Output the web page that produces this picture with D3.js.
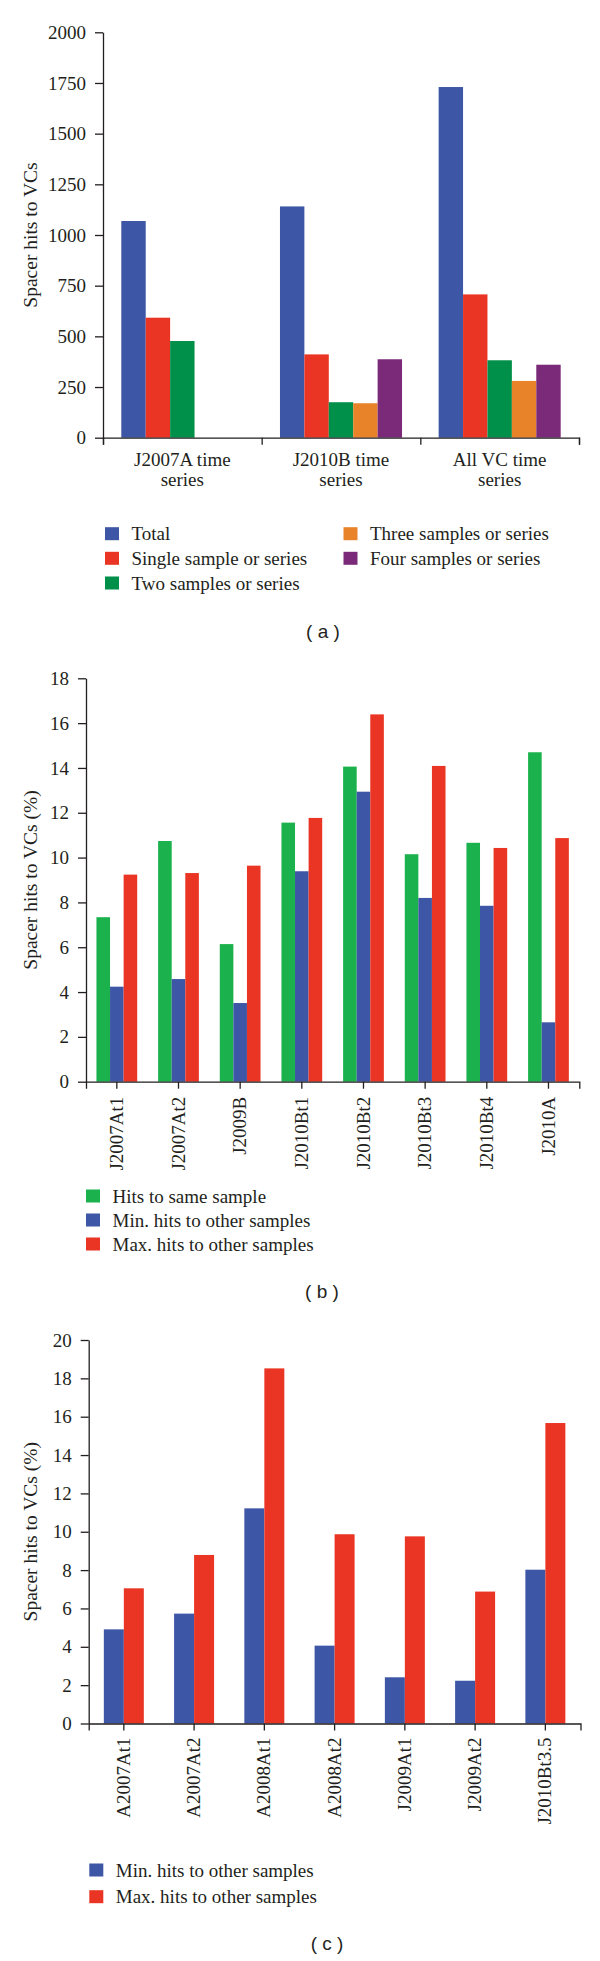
<!DOCTYPE html>
<html>
<head>
<meta charset="utf-8">
<script src="https://cdn.jsdelivr.net/npm/d3@7"></script>
<style>
  body { margin: 0; background: #fff; }
  svg text { font-family: "Liberation Serif", "Times New Roman", serif; fill: #231f20; }
  .domain, .tick line { stroke: #231f20; stroke-width: 1.3; }
</style>
</head>
<body>
<svg id="svg-1"></svg>
<script>
// Panel (a)
var catsA = ["J2007A time series", "J2010B time series", "All VC time series"];
var seriesA = ["Total", "Single sample or series", "Two samples or series", "Three samples or series", "Four samples or series"];
var totalA = [1069, 1141, 1730];
var singleA = [592, 411, 707];
var twoA = [477, 175, 382];
var threeA = [null, 170, 280];
var fourA = [null, 387, 360];
var ticksA = [0, 250, 500, 750, 1000, 1250, 1500, 1750, 2000];

// Panel (b)
var catsB = ["J2007At1", "J2007At2", "J2009B", "J2010Bt1", "J2010Bt2", "J2010Bt3", "J2010Bt4", "J2010A"];
var seriesB = ["Hits to same sample", "Min. hits to other samples", "Max. hits to other samples"];
var sameB = [7.34, 10.74, 6.14, 11.56, 14.06, 10.15, 10.66, 14.70];
var minB = [4.24, 4.58, 3.51, 9.39, 12.94, 8.20, 7.85, 2.65];
var maxB = [9.24, 9.31, 9.64, 11.77, 16.39, 14.09, 10.43, 10.87];
var ticksB = [0, 2, 4, 6, 8, 10, 12, 14, 16, 18];

// Panel (c)
var catsC = ["A2007At1", "A2007At2", "A2008At1", "A2008At2", "J2009At1", "J2009At2", "J2010Bt3.5"];
var seriesC = ["Min. hits to other samples", "Max. hits to other samples"];
var minC = [4.91, 5.73, 11.22, 4.06, 2.41, 2.23, 8.02];
var maxC = [7.05, 8.79, 18.52, 9.87, 9.76, 6.88, 15.67];
var ticksC = [0, 2, 4, 6, 8, 10, 12, 14, 16, 18, 20];

var blue = "#3d56a5", red = "#ea3524", darkGreen = "#00904a",
    green = "#1bb14c", orange = "#e8832a", purple = "#7b2a7a";

var width = 600;
var height = 1961;
var fontSize = 19;

var svg = d3.select("#svg-1")
    .attr("width", width)
    .attr("height", height)
    .attr("viewBox", [0, 0, width, height]);

function drawPanel(p) {
  var g = svg.append("g");

  var xScale = d3.scaleBand()
      .domain(p.cats)
      .range([p.left, p.right]);

  var x1 = d3.scaleBand()
      .domain(p.series)
      .range([0, xScale.bandwidth()])
      .paddingOuter(p.groupPad);

  var yScale = d3.scaleLinear()
      .domain([0, p.ticks[p.ticks.length - 1]])
      .range([p.bottom, p.top]);

  // bars
  p.series.forEach(function(s, i) {
    g.append("g")
      .selectAll("rect")
      .data(p.values[i].map(function(v, j) { return { cat: p.cats[j], v: v }; })
        .filter(function(d) { return d.v != null; }))
      .join("rect")
        .attr("x", d => xScale(d.cat) + x1(s))
        .attr("y", d => yScale(d.v))
        .attr("width", x1.bandwidth())
        .attr("height", d => yScale(0) - yScale(d.v))
        .attr("fill", p.colors[i]);
  });

  // y axis
  g.append("g")
      .attr("transform", "translate(" + p.left + ",0)")
      .call(d3.axisLeft(yScale).tickValues(p.ticks).tickFormat(d3.format("d"))
        .tickSize(8).tickSizeOuter(0).tickPadding(9))
      .call(a => a.selectAll("text").style("font-size", fontSize + "px").attr("font-family", null));

  // x axis
  if (p.boundaryTicks) {
    var xEdge = d3.scaleLinear().domain([0, p.cats.length]).range([p.left, p.right]);
    g.append("g")
        .attr("transform", "translate(0," + p.bottom + ")")
        .call(d3.axisBottom(xEdge).tickValues(d3.range(p.cats.length + 1)).tickFormat("").tickSize(7).tickSizeOuter(7));
    p.cats.forEach(function(c) {
      var k = c.lastIndexOf(" ");
      var t = g.append("text")
          .attr("x", xScale(c) + xScale.bandwidth() / 2)
          .attr("y", p.bottom + 28.5)
          .attr("text-anchor", "middle")
          .style("font-size", fontSize + "px");
      t.append("tspan").text(c.slice(0, k));
      t.append("tspan")
          .attr("x", xScale(c) + xScale.bandwidth() / 2)
          .attr("dy", 19.5)
          .text(c.slice(k + 1));
    });
  } else {
    g.append("g")
        .attr("transform", "translate(0," + p.bottom + ")")
        .call(d3.axisBottom(xScale).tickSize(7).tickSizeOuter(7).tickPadding(p.labelGap))
        .call(a => a.selectAll(".tick text")
          .attr("transform", "rotate(-90)")
          .attr("text-anchor", "end")
          .attr("x", -p.labelGap)
          .attr("y", 0)
          .attr("dy", "0.32em")
          .attr("font-family", null)
          .style("font-size", fontSize + "px"));
  }

  // y title
  svg.append("text")
      .attr("transform", "translate(37," + (p.top + p.bottom) / 2 + ") rotate(-90)")
      .attr("text-anchor", "middle")
      .style("font-size", "19.5px")
      .text(p.yTitle);

  // legend
  p.series.forEach(function(s, i) {
    var pos = p.legend[i];
    svg.append("rect")
        .attr("x", pos[0])
        .attr("y", pos[1] - 6.5)
        .attr("width", 14)
        .attr("height", 13)
        .attr("fill", p.colors[i]);
    svg.append("text")
        .attr("x", pos[0] + 26.5)
        .attr("y", pos[1] + 6.5)
        .style("font-size", fontSize + "px")
        .text(s);
  });

  // caption
  svg.append("text")
      .attr("x", p.caption[0])
      .attr("y", p.caption[1])
      .attr("text-anchor", "middle")
      .style("font-family", "'Liberation Sans', Arial, sans-serif")
      .style("font-size", "19px")
      .text(p.caption[2]);
}

drawPanel({
  cats: catsA, series: seriesA,
  values: [totalA, singleA, twoA, threeA, fourA],
  colors: [blue, red, darkGreen, orange, purple],
  ticks: ticksA, left: 103, right: 579, top: 32.3, bottom: 437.7,
  groupPad: 0.75, boundaryTicks: true,
  yTitle: "Spacer hits to VCs",
  legend: [[105, 533.7], [105, 558.3], [105, 583], [343.5, 533.7], [343.5, 558.3]],
  caption: [323, 638, "( a )"]
});

drawPanel({
  cats: catsB, series: seriesB,
  values: [sameB, minB, maxB],
  colors: [green, blue, red],
  ticks: ticksB, left: 86, right: 579.3, top: 678.3, bottom: 1081.7,
  groupPad: 0.77, boundaryTicks: false, labelGap: 15,
  yTitle: "Spacer hits to VCs (%)",
  legend: [[86, 1196], [86, 1220], [86, 1244]],
  caption: [322, 1298, "( b )"]
});

drawPanel({
  cats: catsC, series: seriesC,
  values: [minC, maxC],
  colors: [blue, red],
  ticks: ticksC, left: 88.7, right: 580.5, top: 1340, bottom: 1723.5,
  groupPad: 0.757, boundaryTicks: false, labelGap: 14,
  yTitle: "Spacer hits to VCs (%)",
  legend: [[89.3, 1870], [89.3, 1896.7]],
  caption: [327, 1950, "( c )"]
});
</script>
</body>
</html>
